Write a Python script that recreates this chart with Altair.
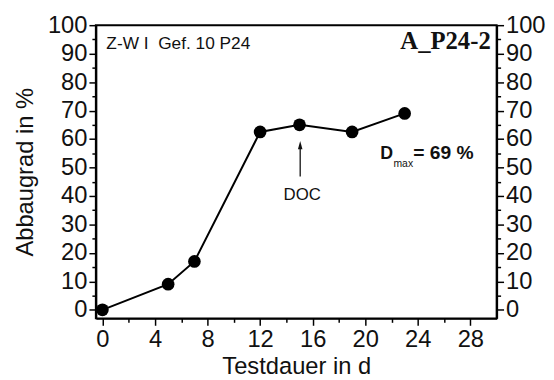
import altair as alt
import pandas as pd

# data
days = [0, 5, 7, 12, 15, 19, 23]
abbaugrad = [0, 9, 17, 62.5, 65, 62.5, 69]

x_ticks = list(range(0, 30, 2))
y_ticks = list(range(0, 101, 5))

label_zw = ["Z-W I\u00a0 Gef. 10 P24"]
label_zw_pos = [(0.3, 91.6)]
label_id = ["A_P24-2"]
label_id_pos = [(29.55, 91.6)]
label_d = ["D"]
label_d_pos = [(21.15, 53.0)]
label_max = ["max"]
label_max_pos = [(22.15, 50.2)]
label_val = ["= 69 %"]
label_val_pos = [(23.65, 53.0)]
label_doc = ["DOC"]
label_doc_pos = [(15.2, 38.5)]
arrow_x = [15.05]
arrow_y = [46.8]
arrow_y2 = [57.5]
head_y = [57.9]

FONT = "Liberation Sans"
INK = "#111111"

xscale = alt.Scale(domain=[-0.5, 30], nice=False, zero=False)
yscale = alt.Scale(domain=[-3, 100], nice=False, zero=False)

xaxis = alt.Axis(
    values=x_ticks,
    labelExpr="datum.value % 4 === 0 ? datum.label : ''",
    title="Testdauer in d",
    tickSize={"condition": {"test": "datum.value % 4 === 0", "value": 7}, "value": 4},
    grid=False,
)
yaxis_left = alt.Axis(
    values=y_ticks,
    labelExpr="datum.value % 10 === 0 ? datum.label : ''",
    title="Abbaugrad in %",
    orient="left",
    tickSize={"condition": {"test": "datum.value % 10 === 0", "value": 7}, "value": 4},
    grid=False,
)
yaxis_right = alt.Axis(
    values=y_ticks,
    labelExpr="datum.value % 10 === 0 ? datum.label : ''",
    title=None,
    orient="right",
    tickSize={"condition": {"test": "datum.value % 10 === 0", "value": 7}, "value": 4},
    grid=False,
)

df = pd.DataFrame({"x": days, "y": abbaugrad})

X = alt.X("x:Q", scale=xscale, axis=xaxis)
Y = alt.Y("y:Q", scale=yscale, axis=yaxis_left)

line = alt.Chart(df).mark_line(color="black", strokeWidth=2).encode(x=X, y=Y)
pts = alt.Chart(df).mark_point(filled=True, color="black", opacity=1, size=165).encode(x=X, y=Y)


def text_layer(texts, pos, **kw):
    d = pd.DataFrame({"x": [p[0] for p in pos], "y": [p[1] for p in pos], "t": texts})
    return alt.Chart(d).mark_text(color=INK, baseline="alphabetic", **kw).encode(x=X, y=Y, text="t:N")


t_zw = text_layer(label_zw, label_zw_pos, font=FONT, fontSize=17.5, align="left")
t_id = text_layer(label_id, label_id_pos, font="Liberation Serif", fontSize=25, fontWeight="bold", align="right")
t_d = text_layer(label_d, label_d_pos, font=FONT, fontSize=18, fontWeight="bold", align="left")
t_max = text_layer(label_max, label_max_pos, font=FONT, fontSize=10.5, align="left")
t_val = text_layer(label_val, label_val_pos, font=FONT, fontSize=19.5, fontWeight="bold", align="left")
t_doc = text_layer(label_doc, label_doc_pos, font=FONT, fontSize=17, align="center")

arrow_df = pd.DataFrame({"x": arrow_x, "y": arrow_y, "y2": arrow_y2})
arrow = alt.Chart(arrow_df).mark_rule(color=INK, strokeWidth=1.3).encode(x=X, y=Y, y2="y2:Q")
head_df = pd.DataFrame({"x": arrow_x, "y": head_y})
head = alt.Chart(head_df).mark_point(
    shape="M0,-1L0.55,1L-0.55,1Z", filled=True, color=INK, opacity=1, size=70
).encode(x=X, y=Y)

main = alt.layer(line, pts, t_zw, t_id, t_d, t_max, t_val, t_doc, arrow, head)

right = alt.Chart(df).mark_point(opacity=0).encode(
    x=X, y=alt.Y("y:Q", scale=yscale, axis=yaxis_right)
)

chart = (
    alt.layer(main, right)
    .resolve_scale(y="independent")
    .properties(
        width=406,
        height=297,
        autosize=alt.AutoSizeParams(type="none"),
        padding={"left": 89, "top": 15, "right": 50, "bottom": 58},
        background="white",
    )
    .configure_view(stroke="black", strokeWidth=2)
    .configure_axis(
        domainColor="black",
        domainWidth=2,
        tickColor="black",
        tickWidth=1.5,
        labelFont=FONT,
        labelFontSize=24,
        labelColor=INK,
        labelPadding=2,
        titleFont=FONT,
        titleFontSize=24,
        titleFontWeight="normal",
        titleColor=INK,
    )
    .configure_axisLeft(titlePadding=10)
    .configure_axisBottom(titlePadding=4)
)

chart.save("out.html", embed_options={"renderer": "svg", "actions": False})
